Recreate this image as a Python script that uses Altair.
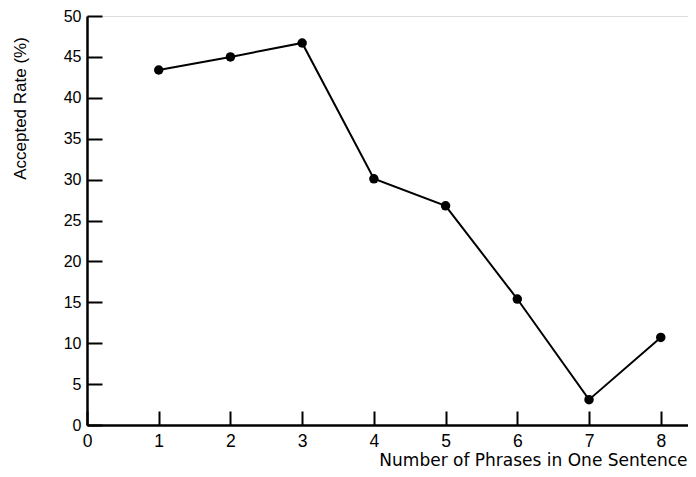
import altair as alt
import pandas as pd

phrases = [1, 2, 3, 4, 5, 6, 7, 8]
accepted_rate = [43.4, 45.0, 46.7, 30.1, 26.8, 15.4, 3.1, 10.7]

x_ticks = [0, 1, 2, 3, 4, 5, 6, 7, 8]
y_ticks = [0, 5, 10, 15, 20, 25, 30, 35, 40, 45, 50]

df = pd.DataFrame({"phrases": phrases, "rate": accepted_rate})

FONT = "Liberation Sans"

x_enc = alt.X(
    "phrases:Q",
    scale=alt.Scale(domain=[0, 8.38], nice=False, zero=False),
    axis=alt.Axis(
        values=x_ticks,
        format="d",
        title="Number of Phrases in One Sentence",
        titleFont="DejaVu Sans", titleFontSize=17, titleFontWeight="normal", titleColor="black",
        titleAnchor="end", titleAlign="right", titleX=600, titleY=40,
        titleBaseline="alphabetic",
        labelFont=FONT, labelFontSize=17.5, labelColor="black", labelPadding=21,
        tickSize={"expr": "-14"}, tickWidth=2, tickColor="black",
        domainColor="black", domainWidth=2.5, grid=False,
        labelFlush=False,
    ),
)
y_enc = alt.Y(
    "rate:Q",
    scale=alt.Scale(domain=[0, 50], nice=False),
    axis=alt.Axis(
        values=y_ticks,
        format="d",
        title="Accepted Rate (%)",
        titleFont=FONT, titleFontSize=17, titleFontWeight="normal", titleColor="black",
        titleAngle=-90, titleAlign="center", titleBaseline="middle",
        titleX=-67, titleY=92,
        labelFont=FONT, labelFontSize=16, labelColor="black", labelPadding=21,
        tickSize={"expr": "-15"}, tickWidth=2, tickColor="black",
        domainColor="black", domainWidth=2.5, grid=False,
        labelFlush=False,
    ),
)

line = alt.Chart(df).mark_line(color="black", strokeWidth=2).encode(x=x_enc, y=y_enc)
pts = alt.Chart(df).mark_point(filled=True, color="black", size=90, opacity=1).encode(x="phrases:Q", y="rate:Q")

chart = (
    alt.layer(line, pts)
    .properties(
        width=601,
        height=409,
        autosize=alt.AutoSizeParams(type="none"),
        padding={"left": 79, "top": 8, "right": 0, "bottom": 44},
    )
    .configure_view(stroke=None)
    .configure(background="white")
)

chart.save("out.html", embed_options={"renderer": "svg", "actions": False})
